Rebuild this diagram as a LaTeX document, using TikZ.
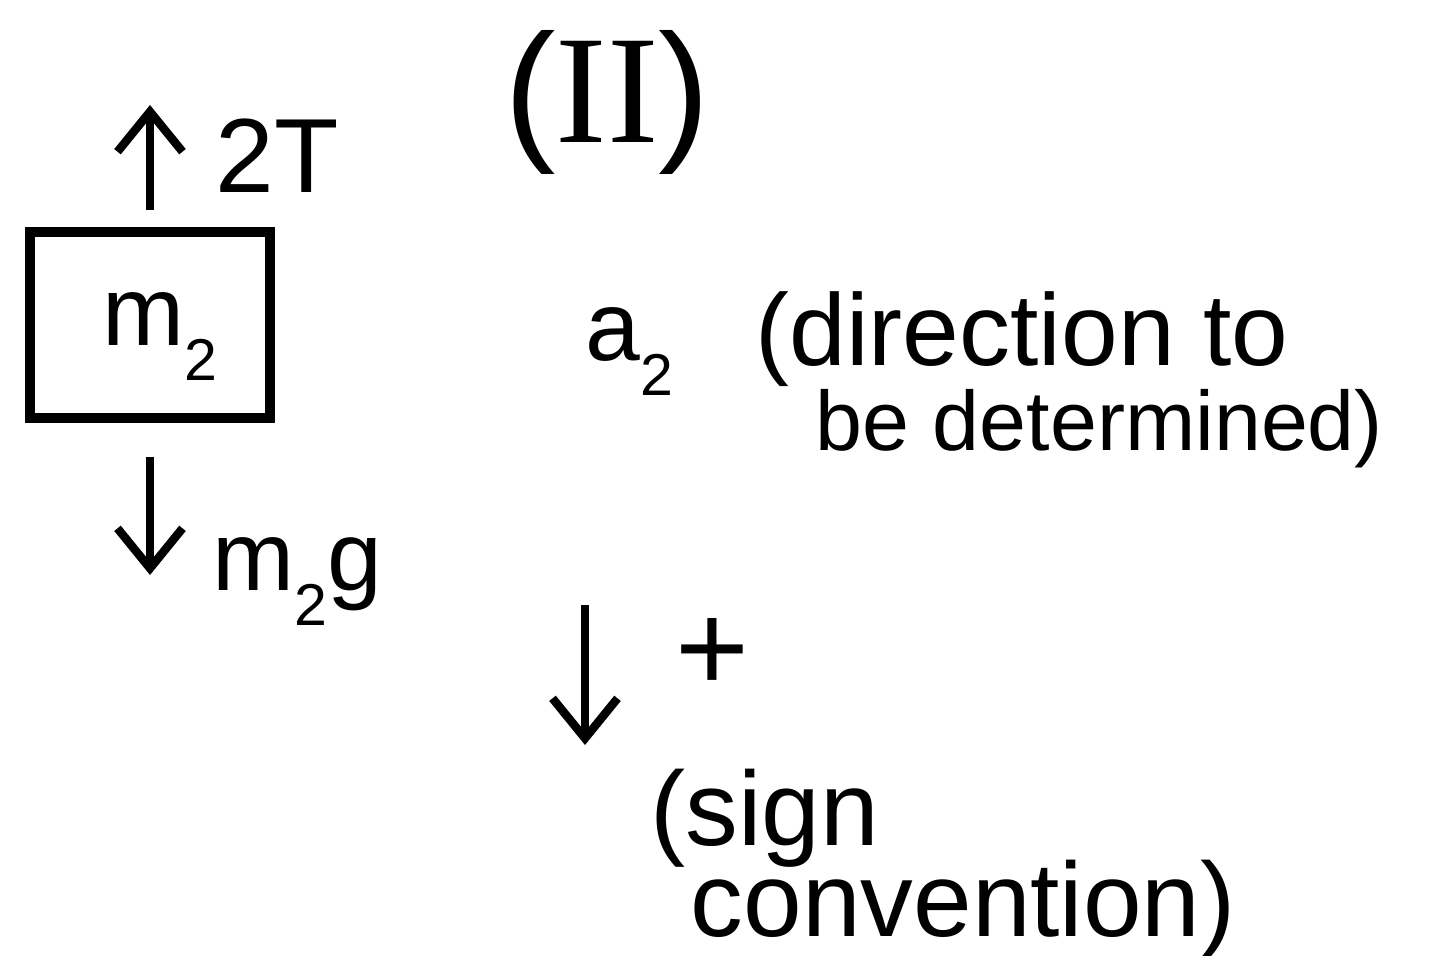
\documentclass[tikz,border=0pt]{standalone}
\usepackage{fontspec}
\setmainfont{Liberation Sans}
\newfontfamily\serifnum{Liberation Serif}
\usetikzlibrary{arrows.meta}
\newcommand{\lowsub}[1]{\raisebox{-0.36em}{\scalebox{0.6}{#1}}}
\begin{document}
\begin{tikzpicture}[
    force/.style={line width=2.4pt, -{Straight Barb[length=4mm,width=6.5mm]}},
    block/.style={draw, line width=2.6pt, minimum width=2.4cm, minimum height=1.86cm},
    hand/.style={inner sep=0pt, anchor=base west, font=\fontsize{28}{28}\selectfont}]
    \useasboundingbox (0,0) rectangle (14.56,-9.55);

    \node[block] (blk) at (1.5,-3.25) {};
    \node[hand] (mass) at (1.02,-3.45) {m\lowsub{2}};

    \coordinate (tup) at (1.5,-1.05);
    \coordinate (tdown) at (1.5,-5.75);
    \draw[force, shorten <=0.17cm] (blk) -- (tup);
    \draw[force, shorten <=0.34cm] (blk) -- (tdown);
    \node[hand, font=\fontsize{30}{30}\selectfont] (tension) at (2.15,-1.92) {2T};
    \node[hand] (weight) at (2.12,-5.9) {m\lowsub{2}g};

    \node[inner sep=0pt, font=\fontsize{44}{44}\selectfont] (part) at (6.07,-1.02) {({\serifnum II})};

    \node[hand] (accel) at (5.85,-3.6) {a\lowsub{2}};
    \node[hand, font=\fontsize{29}{29}\selectfont] (dirA) at (7.55,-3.65) {(direction to};
    \node[hand, font=\fontsize{24}{24}\selectfont] (dirB) at (8.15,-4.5) {be determined)};

    \coordinate (stop) at (5.85,-6.05);
    \coordinate (sbot) at (5.85,-7.45);
    \draw[force] (stop) -- (sbot);
    \node[inner sep=0pt, font=\fontsize{36}{36}\selectfont] (plus) at (7.12,-6.55) {+};
    \node[hand, font=\fontsize{30}{30}\selectfont] (signA) at (6.5,-8.45) {(sign};
    \node[hand, font=\fontsize{30}{30}\selectfont] (signB) at (6.9,-9.36) {convention)};
\end{tikzpicture}
\end{document}
